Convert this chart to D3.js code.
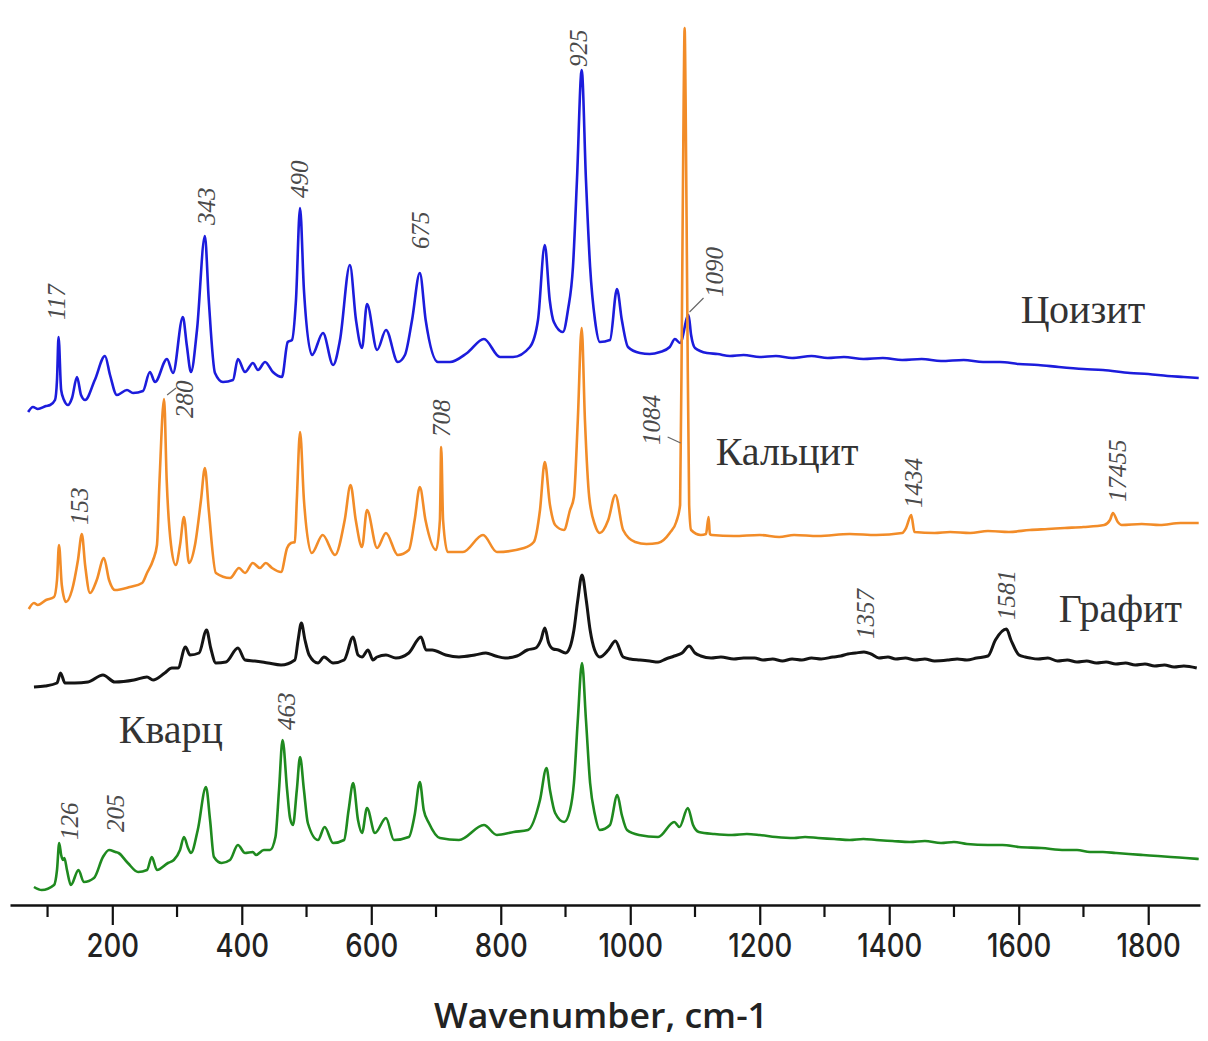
<!DOCTYPE html>
<html>
<head>
<meta charset="utf-8">
<script src="https://cdn.jsdelivr.net/npm/d3@7"></script>
<style>
  html, body { margin: 0; padding: 0; background: #fff; }
  svg { display: block; }
  .tick text { font-family: Inter, "Open Sans", sans-serif; font-size: 32px; font-weight: 500; fill: #222; }
</style>
</head>
<body>
<svg id="chart" width="1208" height="1041"></svg>
<script>
// Raman spectra, [wavenumber cm-1, intensity a.u. incl. stacking offset]
const zoisite = [
  [70,493],[77.5,498],[85,496],[97.6,499],[104,500],[111.5,505],[114.6,525],[117,568],[121,515],[125.4,505],
  [131.6,500],[137.8,507],[145.5,528],[151.7,510],[158,505],[173,525],[188.7,549],[196.5,530],[207,510],
  [222.7,515],[232,512],[247.4,514],[258,533],[266,523],[284.5,546],[293.8,532],[309,588],[315,560],
  [321.5,533],[330.8,575],[343,669],[349,605],[358.6,532],[371,523],[386.4,525],[394,546],[405,533],
  [417.3,542],[425,535],[436,543],[448,533],[462,528],[471,563],[477.5,565],[483.7,605],[490,697],
  [496,615],[508.5,550],[525.4,572],[541,540],[551.7,565],[567,640],[576.4,585],[585.7,557],[593.4,601],
  [609,555],[622.7,575],[641,543],[652,550],[663,585],[675,632],[684,585],[703,543],[721.6,543],
  [748,552],[774,566],[798.8,548],[819,548],[845,558],[857.5,585],[868,660],[875.6,605],[882,583],
  [896,573],[903.8,595],[911.5,638],[917.7,725],[925,835],[931.6,725],[938,638],[945.5,585],[953,563],
  [968.7,565],[979.5,616],[987,585],[996.5,558],[1015,552],[1030,551],[1046,553],[1061,558],[1069,566],
  [1077,562],[1090,590],[1094,570],[1100,557],[1118.5,552],[1135,551],[1154,549],[1175,550],[1200,548],
  [1225,549],[1250,547],[1280,549],[1305,547],[1330,548],[1360,546],[1390,547],[1420,545],[1450,546],
  [1480,544],[1515,545],[1545,543],[1571,543],[1600,541],[1630,540],[1662,538],[1700,536],[1730,535],
  [1772,532],[1800,531],[1830,529],[1855,528],[1878,527]
];
const calcite = [
  [71,296],[79,302],[85,300],[97.6,305],[110,308],[114.6,325],[117.7,360],[122,320],[128.5,303],
  [137.8,315],[147,345],[153,371],[158,340],[165.6,312],[176,325],[187,347],[195,325],[204,315],
  [227,318],[246,322],[253.6,332],[263,345],[269,360],[273,425],[280,506],[284,425],[290.7,360],
  [298,340],[304.6,360],[310.7,388],[318.5,342],[327.7,360],[337,405],[343,437],[349,395],[360,332],
  [382,327],[395.7,337],[405,332],[417,342],[428,337],[437,342],[446.7,337],[460.6,333],[470,357],
  [476,362],[482,363],[485,405],[490,473],[496,405],[508,352],[525,370],[544,350],[559,385],[568,420],
  [576,385],[585.7,358],[593.4,395],[609,357],[622.7,372],[641,350],[658,355],[667,385],[675,418],
  [683.7,385],[700,355],[706,385],[708,458],[710.9,385],[718,353],[741.6,353],[772.6,370],[794,353],
  [836,357],[851,363],[860.6,395],[868,443],[876,400],[884,380],[897.6,375],[907,395],[913,408],
  [919,485],[925,577],[930,485],[936.6,408],[945.5,380],[953,372],[966,385],[977,410],[989,375],
  [1007.6,363],[1025,361],[1043,362],[1061,372],[1071,383],[1077,400],[1080,605],[1082.5,805],[1084,877],
  [1085.5,805],[1088,605],[1091,400],[1094,375],[1109,370],[1117,371],[1121,388],[1123,371],[1126,370],
  [1160,369],[1200,370],[1230,368],[1253,370],[1290,369],[1339,371],[1380,370],[1420,372],[1426,377],
  [1434,390],[1439,373],[1470,372],[1494,373],[1525,372],[1552.5,374],[1585,373],[1617,375],[1645,376],
  [1671,377],[1700,378],[1732,380],[1741,385],[1745.5,392],[1753,383],[1759,380],[1790,381],[1818,380],
  [1850,382],[1878,382]
];
const graphite = [
  [79,218],[96,219],[114.6,222],[120,232],[127,222],[142,222],[162.5,223],[185.6,230],[204,223],
  [233.5,225],[253.6,228],[263,225],[281,232],[292,237],[301.5,237],[313,258],[320,250],[334,252],
  [345.6,275],[352,257],[360,242],[375.6,243],[394,257],[405,245],[420,244],[440.5,242],[460.6,240],
  [482,245],[487,265],[492,282],[497.6,265],[504,250],[517.7,242],[527,248],[541,242],[558,245],
  [572,268],[579.5,250],[585.7,248],[595,255],[602.6,245],[609,248],[622.7,250],[638,247],[658,252],
  [676.8,268],[684.6,255],[694,255],[715,250],[735.5,248],[760,250],[777,252],[792,249],[806.6,247],
  [825,249],[841,255],[854,257],[862,265],[868,277],[874,262],[881,256],[889,255],[900,252],[907,258],
  [913,275],[919,305],[925.5,330],[932,305],[938,275],[945,255],[953,248],[966,255],[977,264],[989,248],
  [1000,246],[1015,245],[1030,244],[1043,243],[1055,246],[1068,249],[1080,252],[1091,259],[1100,252],
  [1109,249],[1125,247],[1140,248],[1160,246],[1175,247],[1192,247],[1205,245],[1220,246],[1235,244],
  [1250,246],[1265,245],[1280,247],[1295,246],[1313,248],[1325,249],[1336,251],[1348,252],[1361,253],
  [1372,251],[1384,247],[1398,248],[1410,246],[1425,247],[1440,245],[1455,246],[1470,244],[1492,245],
  [1505,246],[1520,245],[1535,247],[1552.5,249],[1564,265],[1581,276],[1588,265],[1600.5,250],[1610,248],
  [1617.5,247],[1630,246],[1645,247],[1660,244],[1675,245],[1690,243],[1705,244],[1720,242],[1735,243],
  [1750,241],[1765,242],[1780,240],[1795,241],[1810,239],[1825,240],[1840,238],[1855,239],[1875,237]
];
const quartz = [
  [79,18],[91,15],[110,20],[114.6,35],[118,62],[121,50],[124,45],[126,47],[130,35],[136,20],
  [147.8,35],[156,23],[171.7,27],[185.6,48],[195,55],[205,53],[209.7,52],[224,42],[240,33],
  [253.6,35],[261,48],[269,35],[286,42],[295,45],[304.6,55],[310.7,68],[317,57],[321.5,52],[332,75],
  [344.7,118],[351,85],[357,48],[369,42],[381.8,45],[394,60],[405,52],[417,53],[422,50],[434,55],
  [443.6,55],[452,68],[457.5,115],[463,165],[470,115],[474.5,87],[479,80],[485,115],[490,148],
  [496,115],[502,82],[517.7,65],[528,78],[541,62],[558,65],[565,95],[572,122],[579.5,85],[585.7,72],
  [593.4,97],[605.7,72],[622.7,87],[635,65],[658,68],[667,90],[675,123],[681,95],[689,82],[706,67],
  [735.5,65],[774,80],[794,70],[820,73],[842,75],[860.6,105],[870.6,137],[876,115],[884,92],[898,83],
  [907,95],[913,122],[919,185],[925.5,242],[931.6,185],[938,122],[945.5,90],[953,75],[968.7,80],
  [980,110],[987,90],[995,75],[1013.5,70],[1043,68],[1068,83],[1076,78],[1089,97],[1097,80],[1106,73],
  [1130,71],[1157,70],[1180,71],[1200,70],[1225,68],[1253,67],[1270,68],[1290,67],[1315,66],[1339,65],
  [1360,66],[1380,65],[1405,64],[1432,63],[1455,64],[1480,62],[1500,63],[1520,61],[1552.5,60],
  [1575,60],[1600,58],[1635,57],[1671,55],[1690,55],[1710,53],[1730,53],[1750,52],[1770,51],[1792,50],
  [1815,49],[1835,48],[1858,47],[1878,46]
];

const seriesNames = ["Цоизит", "Кальцит", "Графит", "Кварц"];
const seriesData = [zoisite, calcite, graphite, quartz];
const seriesColors = ["#1c1cdc", "#f28c28", "#141414", "#1f8a1f"];

// Peak annotations: [series index, label, wavenumber]
const peakNotes = [
  [0,"117",117],[0,"343",343],[0,"490",490],[0,"675",675],[0,"925",925],[0,"1090",1090],
  [1,"153",153],[1,"280",280],[1,"708",708],[1,"1084",1084],[1,"1434",1434],[1,"17455",1745.5],
  [2,"1357",1357],[2,"1581",1581],
  [3,"126",126],[3,"205",205],[3,"463",463]
];
const tickValues = [200,400,600,800,1000,1200,1400,1600,1800];
const minorTicks = [100,300,500,700,900,1100,1300,1500,1700];
const axisTitle = "Wavenumber, cm-1";

// Label placement relative to the annotated peak (px): dx shift, gap above peak, optional leader
const noteLayout = {
  "117":{dx:-2,gap:17}, "343":{dx:2,gap:11}, "490":{dx:0,gap:10}, "675":{dx:1,gap:24},
  "925":{dx:-3,gap:3}, "1090":{dx:26,gap:18,leader:[[1,-3],[15,-17]]},
  "153":{dx:-2,gap:9}, "280":{dx:21,gap:-19,leader:[[3,-4],[12,-11]]}, "708":{dx:1,gap:10},
  "1084":{dx:-33,gap:-417,leader:[[-17,409],[-4,415]]}, "1434":{dx:3,gap:7}, "17455":{dx:5,gap:11},
  "1357":{dx:4,gap:13}, "1581":{dx:0,gap:9},
  "126":{dx:5,gap:15}, "205":{dx:0,gap:20}, "463":{dx:4,gap:10}
};
// Series name placement: [wavenumber at text start, intensity at baseline]
const nameAnchors = [[1603,582],[1132,440],[1662,283],[210,162]];
const lineWidths = [2.6, 2.6, 3, 2.6];

const svg = d3.select("#chart");
const x = d3.scaleLinear().domain([42, 1880]).range([10, 1200]);
const y = d3.scaleLinear().domain([0, 900]).range([905, 5]);

const line = d3.line()
  .x(d => x(d[0]))
  .y(d => y(d[1]))
  .curve(d3.curveMonotoneX);

// spectra
svg.append("g").selectAll("path")
  .data(seriesData)
  .join("path")
  .attr("d", line)
  .attr("fill", "none")
  .attr("stroke", (d, i) => seriesColors[i])
  .attr("stroke-width", (d, i) => lineWidths[i])
  .attr("stroke-linejoin", "round");

// bottom axis with major and minor ticks
const axisG = svg.append("g").attr("transform", `translate(0,${y(0)})`);
axisG.call(d3.axisBottom(x).tickValues(tickValues).tickFormat(d3.format("d"))
  .tickSize(20).tickSizeOuter(0).tickPadding(9));
axisG.select(".domain").attr("stroke", "#111").attr("stroke-width", 2.5);
axisG.selectAll(".tick line").attr("stroke", "#111").attr("stroke-width", 2.2);
axisG.selectAll(".tick text").attr("transform", "scale(0.86,1)");
axisG.selectAll(".minor").data(minorTicks).join("line")
  .attr("class", "minor")
  .attr("x1", d => x(d)).attr("x2", d => x(d))
  .attr("y1", 0).attr("y2", 12)
  .attr("stroke", "#111").attr("stroke-width", 2.2);

svg.append("text")
  .attr("x", 601).attr("y", 1028)
  .attr("text-anchor", "middle")
  .attr("font-family", "'Open Sans', 'Noto Sans', sans-serif")
  .attr("font-weight", 600)
  .attr("font-size", 35)
  .attr("textLength", 334)
  .attr("lengthAdjust", "spacingAndGlyphs")
  .attr("fill", "#222")
  .text(axisTitle);

// peak labels
function peakValue(series, wn) {
  const near = series.filter(p => Math.abs(p[0] - wn) <= 6);
  return d3.max(near, p => p[1]);
}
const notesG = svg.append("g");
peakNotes.forEach(([si, label, wn]) => {
  const lay = noteLayout[label];
  const px = x(wn), py = y(peakValue(seriesData[si], wn));
  if (lay.leader) {
    notesG.append("line")
      .attr("x1", px + lay.leader[0][0]).attr("y1", py + lay.leader[0][1])
      .attr("x2", px + lay.leader[1][0]).attr("y2", py + lay.leader[1][1])
      .attr("stroke", "#666").attr("stroke-width", 1.2);
  }
  notesG.append("text")
    .attr("transform", `translate(${px + lay.dx},${py - lay.gap}) rotate(-90)`)
    .attr("dy", "0.33em")
    .attr("font-family", "'Liberation Serif', 'DejaVu Serif', serif")
    .attr("font-style", "italic")
    .attr("font-size", 25)
    .attr("fill", "#4a4a4a")
    .text(label);
});

// series names
svg.append("g").selectAll("text")
  .data(seriesNames)
  .join("text")
  .attr("x", (d, i) => x(nameAnchors[i][0]))
  .attr("y", (d, i) => y(nameAnchors[i][1]))
  .attr("font-family", "'Liberation Serif', 'DejaVu Serif', serif")
  .attr("font-size", 40)
  .attr("fill", "#333")
  .text(d => d);
</script>
</body>
</html>
